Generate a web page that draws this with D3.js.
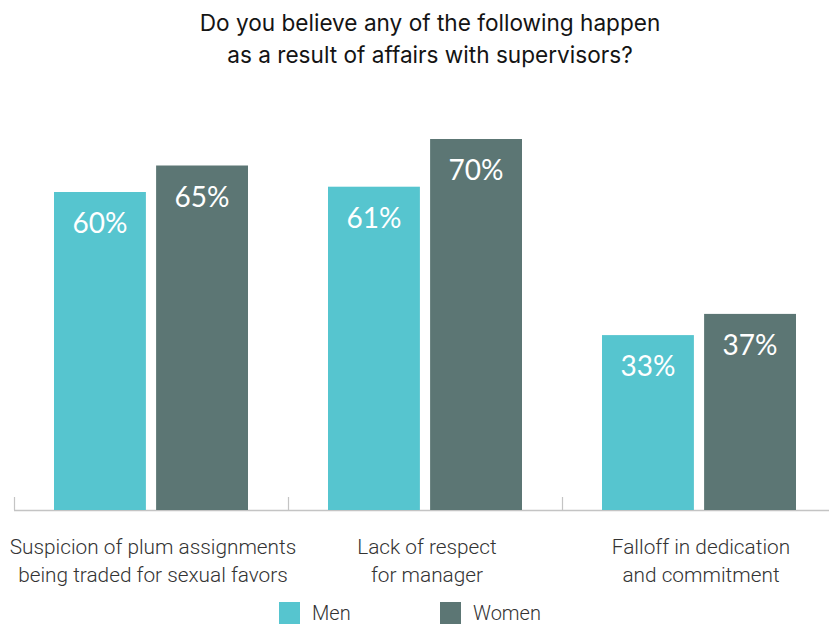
<!DOCTYPE html>
<html>
<head>
<meta charset="utf-8">
<script src="https://cdn.jsdelivr.net/npm/d3@7"></script>
<style>
  html, body { margin: 0; padding: 0; background: #fff; }
  svg { display: block; }
</style>
</head>
<body>
<svg id="chart" width="829" height="626"></svg>
<script>
const titleLines = ["Do you believe any of the following happen", "as a result of affairs with supervisors?"];
const categories = ["Suspicion of plum assignments being traded for sexual favors", "Lack of respect for manager", "Falloff in dedication and commitment"];
const categoryLines = [
  ["Suspicion of plum assignments", "being traded for sexual favors"],
  ["Lack of respect", "for manager"],
  ["Falloff in dedication", "and commitment"]
];
const series = ["Men", "Women"];
const menValues = [60, 61, 33];
const womenValues = [65, 70, 37];
const colors = ["#56c5cf", "#5c7674"];

const svg = d3.select("#chart");
const baseY = 510;

const x0 = d3.scaleBand().domain(categories).range([14, 836]);
const x1 = d3.scaleBand().domain(series).range([40, 234]).paddingInner(0.1);
const y = d3.scaleLinear().domain([0, 100]).range([baseY, -20]);
const color = d3.scaleOrdinal().domain(series).range(colors);

const data = categories.map((c, i) => ({ cat: c, values: [
  { s: "Men", v: menValues[i] },
  { s: "Women", v: womenValues[i] }
]}));

// title
svg.append("g").selectAll("text").data(titleLines).join("text")
  .attr("x", 430).attr("y", (d, i) => 31 + i * 32)
  .attr("text-anchor", "middle")
  .attr("font-family", "Inter, Roboto, sans-serif")
  .attr("font-size", 22.6)
  .attr("fill", "#141414")
  .text(d => d);

// axis
const axis = svg.append("g");
axis.append("line")
  .attr("x1", x0.range()[0]).attr("x2", 829)
  .attr("y1", baseY + 0.5).attr("y2", baseY + 0.5)
  .attr("stroke", "#c4c4c4").attr("stroke-width", 1.5);
axis.selectAll("line.tick").data(categories).join("line")
  .attr("class", "tick")
  .attr("x1", d => x0(d) + 0.5).attr("x2", d => x0(d) + 0.5)
  .attr("y1", baseY).attr("y2", baseY - 13)
  .attr("stroke", "#c4c4c4").attr("stroke-width", 1.2);

// bars
const groups = svg.append("g").selectAll("g").data(data).join("g")
  .attr("transform", d => `translate(${x0(d.cat)},0)`);

groups.selectAll("rect").data(d => d.values).join("rect")
  .attr("x", d => x1(d.s))
  .attr("y", d => y(d.v))
  .attr("width", x1.bandwidth())
  .attr("height", d => y(0) - y(d.v))
  .attr("fill", d => color(d.s));

groups.selectAll("text").data(d => d.values).join("text")
  .attr("x", d => x1(d.s) + x1.bandwidth() / 2)
  .attr("y", d => y(d.v) + 41)
  .attr("text-anchor", "middle")
  .attr("font-family", "Lato, 'Open Sans', sans-serif")
  .attr("font-size", 28)
  .attr("fill", "#ffffff")
  .text(d => d.v + "%");

// category labels
const labels = svg.append("g").selectAll("text").data(categories).join("text")
  .attr("text-anchor", "middle")
  .attr("font-family", "Roboto, 'Open Sans', sans-serif")
  .attr("font-weight", 300)
  .attr("font-size", 20.8)
  .attr("fill", "#333");
labels.each(function(d, i) {
  d3.select(this).selectAll("tspan").data(categoryLines[i]).join("tspan")
    .attr("x", x0(d) + x0.bandwidth() / 2 + 2)
    .attr("y", (t, j) => 554 + j * 28)
    .text(t => t);
});

// legend
const legendX = [279, 440];
const legend = svg.append("g").selectAll("g").data(series).join("g")
  .attr("transform", (d, i) => `translate(${legendX[i]},602)`);
legend.append("rect")
  .attr("width", 21).attr("height", 22)
  .attr("fill", d => color(d));
legend.append("text")
  .attr("x", 33).attr("y", 18)
  .attr("font-family", "Roboto, 'Open Sans', sans-serif")
  .attr("font-weight", 300)
  .attr("font-size", 20)
  .attr("fill", "#333")
  .text(d => d);
</script>
</body>
</html>
